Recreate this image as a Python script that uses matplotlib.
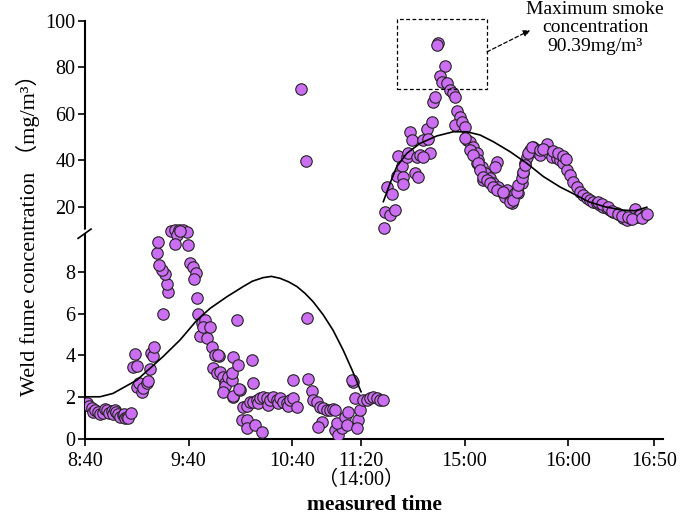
"""
Weld fume concentration over the measured time, broken y axis (0-10 / 10-100).
"""

import matplotlib
matplotlib.use("Agg")
import matplotlib.pyplot as plt
import numpy as np
from matplotlib.patches import Rectangle

plt.rcParams['font.family'] = ['Liberation Serif', 'Noto Sans CJK SC']

# time axis: minutes since 8:40, lunch gap (11:20 -> 14:00) removed
tick_minutes = [0, 60, 120, 160, 220, 280, 330]
tick_labels = ['8:40', '9:40', '10:40', '11:20\n（14:00）', '15:00', '16:00', '16:50']

# measured points, lower band (mg/m3)
low_t = [1.3, 2.5, 3.9, 4.6, 5.8, 7.7, 8.7, 10.6, 11.6, 12.6, 14.1, 15.5, 16.4, 17.4, 18.0,
         19.3, 20.3, 21.9, 22.6, 23.2, 24.2, 25.1, 26.7,
         28.0, 29.0, 30.0, 30.0, 31.5, 32.9, 33.8, 35.8, 36.7, 37.7, 38.1, 39.6, 40.0,
         45.4, 48.3, 47.4, 46.4, 44.5, 43.1, 41.6, 42.1,
         49.7, 52.2, 54.7, 57.0, 59.0, 53.2, 52.2, 59.9, 55.1,
         60.9, 62.8, 64.3, 63.2, 64.8, 65.7, 67.7, 69.6, 66.7, 70.6, 68.6, 72.5, 73.4, 75.4,
         77.9, 77.3, 74.4, 76.3, 78.3, 80.2, 81.2, 81.2, 80.2, 83.1, 85.0, 86.0, 85.6, 85.0,
         87.9, 86.0, 88.9, 89.9, 89.4, 90.8, 93.7, 93.7, 91.8, 93.9, 95.7, 97.4, 98.6, 102.4,
         96.6, 97.6, 99.5, 100.3, 101.4, 103.4, 105.3, 106.1, 107.2, 109.2, 111.1, 111.9,
         113.0, 115.0, 116.9, 117.7, 118.8, 120.8, 122.7, 120.8,
         128.5, 129.4, 131.4, 132.3, 134.3, 136.2, 138.1, 137.2, 135.2, 140.1, 142.0, 143.9,
         144.9, 144.9, 146.8, 148.8, 145.9, 150.7, 152.6, 151.7, 155.5, 154.6, 156.5, 158.4,
         157.5, 159.4, 161.3, 163.3, 165.2, 167.1, 169.1, 171.0, 172.9]
low_val = [1.74, 1.58, 1.47, 1.30, 1.39, 1.31, 1.20, 1.26, 1.45, 1.39, 1.23, 1.35, 1.20, 1.40, 1.31,
           1.20, 1.07, 1.15, 1.20, 0.99, 1.07, 0.99, 1.23,
           3.46, 4.05, 3.51, 2.50, 2.66, 2.26, 2.42, 2.66, 2.78, 3.35, 4.13, 3.99, 4.42,
           5.97, 7.05, 7.40, 7.89, 8.09, 8.33, 8.89, 9.44,
           9.95, 9.98, 10.0, 9.98, 9.92, 9.76, 9.33, 9.28, 9.95,
           8.40, 8.25, 7.93, 7.64, 6.76, 5.98, 5.53, 5.69, 4.93, 4.82, 5.37, 5.37, 4.42, 4.02,
           3.99, 4.02, 3.38, 3.14, 3.22, 2.98, 2.67, 2.54, 2.26, 2.98, 2.82, 2.02, 2.06, 3.14,
           5.69, 3.94, 3.54, 2.34, 2.38, 0.91, 0.91, 0.51, 1.55, 1.60, 1.78, 1.75, 0.67, 0.32,
           3.78, 2.66, 1.87, 1.70, 1.95, 2.02, 1.95, 1.65, 1.87, 2.02, 1.87, 1.70,
           1.95, 1.78, 1.70, 1.60, 1.87, 1.95, 1.55, 2.82,
           5.78, 2.86, 2.31, 1.87, 1.78, 1.55, 1.47, 0.83, 0.56, 1.39, 1.39, 1.42,
           1.39, 0.43, 0.19, 0.51, 0.75, 1.07, 1.31, 0.67, 2.74, 2.82, 1.95, 0.91,
           0.51, 1.39, 1.87, 1.87, 1.95, 2.02, 1.95, 1.87, 1.87]

# measured points, upper band (mg/m3)
high_t = [125.0, 127.9,
          173.3, 173.9, 176.8, 179.7, 174.9, 177.8, 181.6, 183.6, 180.7, 184.5, 184.5, 186.5,
          187.4, 188.4, 189.4, 191.3, 193.2, 192.3, 194.2, 196.1, 198.1, 199.0, 200.0, 201.0,
          196.1, 201.9, 202.9, 204.8, 203.9, 208.7, 205.8, 206.8, 209.7, 211.6, 213.2, 214.5,
          215.8, 217.4, 214.5, 218.4, 220.3, 221.3, 223.2, 225.1, 227.1, 228.0, 229.0, 227.1,
          230.0, 231.9, 230.9, 234.8, 238.7, 237.7, 236.7, 239.6, 241.6, 244.5, 243.5, 246.4,
          247.4, 249.3, 251.2, 253.2, 254.1, 255.1, 256.1, 258.0, 259.9, 261.9, 263.8, 267.6,
          268.6, 270.6, 273.4, 275.4, 277.3, 279.2, 281.2, 283.1, 285.0, 287.0, 288.9, 290.8,
          292.8, 294.7, 296.6, 298.6, 300.5, 302.4, 304.3, 306.3, 308.2, 310.1, 312.1, 314.0,
          315.9, 318.8, 319.8, 321.7, 324.6,
          220.3, 223.2, 225.1, 228.0, 229.0, 230.9, 232.9, 234.8, 236.7, 238.7, 242.5, 246.4,
          248.3, 250.3, 251.2, 253.2, 254.1, 255.1, 257.0, 258.9, 263.8, 265.5,
          271.3, 274.2, 277.1, 278.8,
          297.4, 299.7, 303.2, 305.5, 309.0, 311.3, 314.8, 317.1, 322.9, 325.8]
high_val = [70.7, 39.7,
            11.0, 17.9, 16.5, 18.6, 28.4, 25.5, 41.9, 37.6, 33.3, 33.0, 29.8, 41.6,
            43.0, 52.3, 48.8, 34.4, 33.0, 41.6, 42.3, 48.8, 53.4, 49.1, 43.0, 56.6,
            41.6, 65.3, 67.4, 90.39, 89.8, 80.6, 76.3, 73.9, 73.2, 70.3, 68.9, 67.4,
            61.4, 58.8, 55.2, 56.6, 54.2, 48.8, 48.0, 45.9, 43.0, 40.1, 36.6, 38.7,
            37.3, 34.4, 31.5, 32.3, 39.4, 37.3, 30.1, 28.6, 26.5, 27.2, 24.3, 24.3,
            21.5, 25.8, 25.8, 30.1, 34.4, 38.7, 41.6, 44.5, 45.9, 43.7, 42.3, 47.0,
            43.7, 41.6, 40.9, 40.1, 38.7, 35.8, 33.7, 30.8, 28.6, 26.5, 25.1, 23.7,
            22.9, 22.2, 21.5, 20.8, 20.0, 19.3, 18.6, 17.9, 17.2, 16.5, 15.0, 14.3,
            15.0, 18.9, 15.7, 16.5, 16.5,
            49.5, 44.5, 42.3, 38.7, 35.8, 33.0, 31.5, 30.1, 28.6, 27.2, 26.5, 22.2,
            22.9, 26.5, 29.4, 32.3, 35.1, 38.0, 43.0, 45.9, 44.5, 45.0,
            44.0, 43.0, 42.0, 40.5,
            22.0, 21.0, 19.8, 18.3, 17.0, 16.0, 15.5, 14.7, 15.0, 17.0]

# fitted trend lines
fit_low_t = [0, 8.7, 16.2, 30.1, 45.2, 55.1, 64.9, 72.5, 82.3, 91.6, 97.0, 103.2, 108.0,
             113.0, 118.0, 122.9, 127.5, 132.2, 138.0, 143.8, 149.6, 154.8, 160.0]
fit_low_val = [2.02, 2.02, 2.18, 2.82, 3.94, 4.74, 5.69, 6.25, 6.81, 7.29, 7.55, 7.72, 7.78,
               7.69, 7.52, 7.29, 6.97, 6.57, 5.95, 5.20, 4.26, 3.30, 2.26]
fit_high_t = [172.9, 176.8, 180.7, 186.5, 194.2, 203.9, 213.5, 221.3, 229.0, 236.7, 246.4,
              256.1, 265.7, 275.4, 282.1, 291.8, 301.4, 311.1, 318.8, 325.6]
fit_high_val = [22.2, 30.1, 37.3, 43.0, 47.3, 50.5, 52.3, 52.3, 50.9, 48.0, 43.7,
                38.7, 33.0, 28.5, 26.0, 22.2, 20.0, 18.6, 18.3, 19.8]


def forward(y):
    y = np.asarray(y, dtype=float)
    return np.where(y <= 10, y, 10 + (y - 10) / 9.0)


def inverse(y):
    y = np.asarray(y, dtype=float)
    return np.where(y <= 10, y, 10 + (y - 10) * 9.0)


fig = plt.figure(figsize=(6.85, 5.17), dpi=100)
ax = fig.add_axes([85 / 685, 1 - 439 / 517, (663 - 85) / 685, (439 - 21) / 517])

ax.set_yscale('function', functions=(forward, inverse))
ax.set_ylim(0, 100)
ax.set_xlim(0, 335)

dot = dict(s=68, c='#cc6ef2', edgecolors='#222222', linewidths=0.8, zorder=3)
ax.scatter(low_t, low_val, **dot)
ax.scatter(high_t, high_val, **dot)
ax.plot(fit_low_t, fit_low_val, color='black', lw=1.2, zorder=4)
ax.plot(fit_high_t, fit_high_val, color='black', lw=1.2, zorder=4)

ax.set_yticks([0, 2, 4, 6, 8, 20, 40, 60, 80, 100])
ax.set_yticklabels(['0', '2', '4', '6', '8', '20', '40', '60', '80', '100'])
ax.set_xticks(tick_minutes)
ax.set_xticklabels(tick_labels, linespacing=1.0)
ax.tick_params(direction='out', length=5, width=1.2, labelsize=14.5, pad=2)
ax.tick_params(axis='x', pad=4)
ax.minorticks_off()

for side in ['top', 'right']:
    ax.spines[side].set_visible(False)
for side in ['left', 'bottom']:
    ax.spines[side].set_linewidth(1.5)

# axis break mark at y = 10
ax.plot([-4.5, 4.5], [9.85, 10.15], color='white', lw=2.5, clip_on=False, zorder=4.5)
ax.plot([-4, 3.5], [9.6, 10.4], color='black', lw=1.2, clip_on=False, zorder=5)

# maximum marker box and note
ax.add_patch(Rectangle((181, 70.7), 52, 30.2, fill=False, ls=(0, (3, 2)), lw=0.9,
                       ec='black', clip_on=False, zorder=5))
ax.annotate('', xy=(258, 96.0), xytext=(233, 86.7),
            arrowprops=dict(arrowstyle='-|>', ls=(0, (3, 2)), lw=0.9, color='black',
                            mutation_scale=10, shrinkA=0, shrinkB=0),
            annotation_clip=False)
fig.text(595 / 685, 1 - 28 / 517, 'Maximum smoke\nconcentration\n90.39mg/m³',
         ha='center', va='center', fontsize=14, linespacing=1.1)

ax.set_ylabel('Weld fume concentration （mg/m³）', fontsize=16, labelpad=4)
ax.set_xlabel('measured time', fontsize=15.5, fontweight='bold', labelpad=4)

fig.savefig('out.png', dpi=100, facecolor='white')
